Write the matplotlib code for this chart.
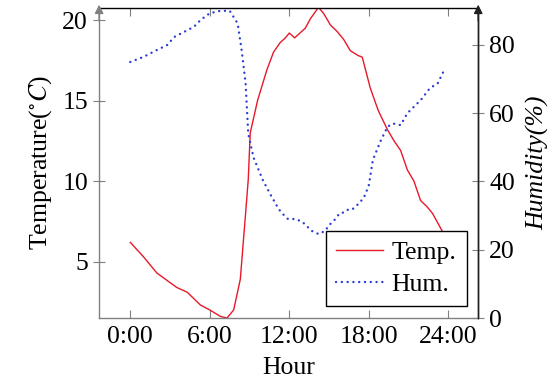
import numpy as np
import matplotlib.pyplot as plt

plt.rcParams['font.family'] = ['Liberation Serif', 'DejaVu Serif']
plt.rcParams['mathtext.fontset'] = 'stix'
plt.rcParams['font.size'] = 18.5

# temperature (deg C) against hour of day
temp_hour = [0.0, 1.0, 2.0, 3.0, 3.5, 4.3, 5.3, 6.0, 6.8, 7.3, 7.8, 8.3, 8.7, 8.9, 9.05,
             9.6, 10.3, 10.8, 11.3, 11.7, 12.0, 12.4, 12.8, 13.2, 13.6, 14.2, 14.6, 15.1,
             15.6, 16.1, 16.6, 17.2, 17.5, 18.1, 18.7, 19.4, 19.9, 20.4, 20.9, 21.4, 21.9,
             22.4, 22.8, 23.2, 23.6, 24.0]
temp_val = [6.2, 5.3, 4.3, 3.7, 3.4, 3.1, 2.3, 2.0, 1.6, 1.5, 2.0, 3.9, 8.0, 10.1, 13.0,
            15.0, 16.9, 18.0, 18.6, 18.9, 19.2, 18.9, 19.2, 19.5, 20.1, 20.8, 20.4, 19.7,
            19.3, 18.8, 18.1, 17.8, 17.7, 15.8, 14.4, 13.2, 12.5, 11.9, 10.7, 10.0, 8.8,
            8.4, 8.0, 7.4, 6.8, 6.2]

# relative humidity (%) against hour of day
hum_hour = [0.0, 1.0, 2.0, 2.8, 3.3, 4.3, 4.8, 5.3, 6.0, 6.8, 7.5, 8.1, 8.4, 8.7, 8.9,
            9.3, 10.0, 10.6, 11.2, 11.5, 11.9, 12.5, 13.0, 13.4, 13.7, 14.2, 14.7, 15.0,
            15.4, 15.8, 16.2, 16.5, 16.8, 17.2, 17.6, 17.8, 18.0, 18.3, 18.9, 19.4, 19.8,
            20.4, 20.9, 21.9, 22.6, 23.2, 23.6]
hum_val = [75.0, 76.5, 78.5, 80.0, 82.3, 84.3, 85.3, 87.3, 89.3, 90.0, 90.0, 86.3, 78.5,
           68.8, 54.0, 47.0, 40.4, 36.0, 31.9, 30.5, 29.0, 29.0, 28.1, 26.6, 25.5, 24.6,
           25.5, 27.2, 28.7, 30.7, 31.0, 32.0, 32.0, 33.4, 35.1, 36.9, 39.0, 46.3, 52.0,
           56.0, 57.0, 56.5, 60.0, 63.8, 67.3, 68.8, 72.0]

x_ticks = [0, 6, 12, 18, 24]
x_labels = ['0:00', '6:00', '12:00', '18:00', '24:00']

fig = plt.figure(figsize=(5.6, 3.85), dpi=100)
ax = fig.add_axes([0.177, 0.174, 0.677, 0.805])
ax2 = ax.twinx()

l1, = ax.plot(temp_hour, temp_val, color='#e8182a', linewidth=1.0, label='Temp.')
l2, = ax2.plot(hum_hour, hum_val, color='#2b3bd6', linewidth=1.7, linestyle=(0, (0.05, 2.4)),
               dash_capstyle='round', label='Hum.')

ax.set_xlim(-2.35, 26.25)
ax.set_ylim(1.5, 20.75)
ax2.set_ylim(0, 90.8)

ax.set_xticks(x_ticks)
ax.set_xticklabels(x_labels)
ax.set_yticks([5, 10, 15, 20])
ax2.set_yticks([0, 20, 40, 60, 80])

gray = '#808080'
for a in (ax, ax2):
    for s in a.spines.values():
        s.set_linewidth(1.0)
ax.spines['left'].set_color(gray)
ax.spines['bottom'].set_color(gray)
ax.spines['top'].set_color('black')
ax2.spines['right'].set_color('#202020')
ax2.spines['left'].set_visible(False)
ax2.spines['bottom'].set_visible(False)
ax2.spines['top'].set_visible(False)

ax.tick_params(axis='x', direction='in', top=True, length=6, color=gray, pad=6)
ax.tick_params(axis='y', direction='inout', length=8, color=gray, pad=4)
ax2.tick_params(axis='y', direction='inout', length=8, color=gray, pad=4)

# arrowheads on the y axes
for a, xpos, col in ((ax, 0.0, gray), (ax2, 1.0, '#202020')):
    a.annotate('', xy=(xpos, 1.02), xytext=(xpos, 0.95), xycoords='axes fraction',
               arrowprops=dict(arrowstyle='-|>', color=col, lw=1.0, mutation_scale=13),
               annotation_clip=False)

ax.set_xlabel('Hour', labelpad=6)
ax.set_ylabel('Temperature($^{\\circ}C$)', labelpad=6)
ax2.set_ylabel('Humidity(%)', fontstyle='italic', labelpad=8)

leg = ax2.legend([l1, l2], ['Temp.', 'Hum.'], loc='lower right', fancybox=False,
                 framealpha=1, edgecolor='black', handlelength=1.8, borderpad=0.4,
                 labelspacing=0.35, handletextpad=0.35, borderaxespad=0.45)
leg.get_frame().set_linewidth(1.0)

fig.savefig('out.png', dpi=100)
